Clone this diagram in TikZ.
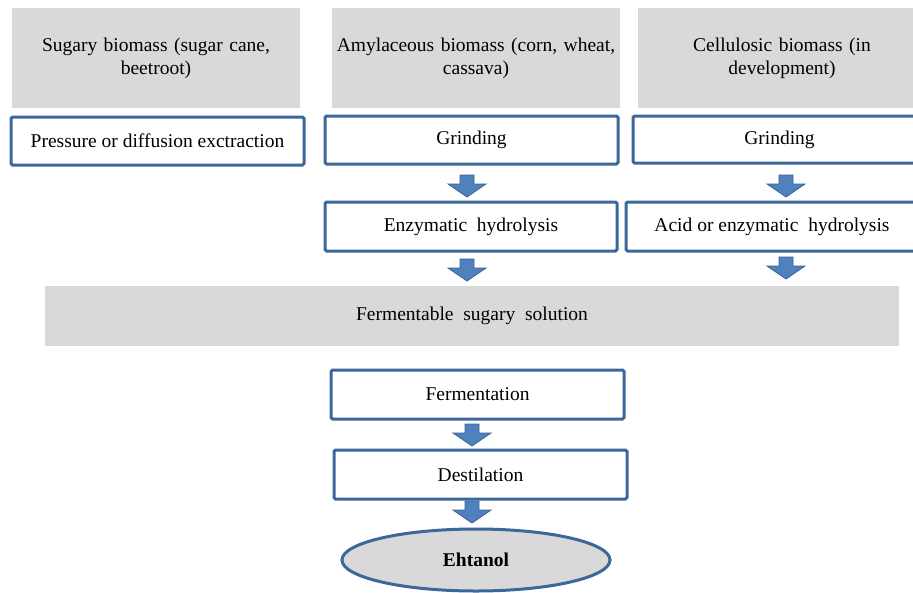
\documentclass[tikz,border=0pt]{standalone}
\usepackage{fontspec}
\setmainfont{Liberation Serif}
\usetikzlibrary{shapes.geometric}
\definecolor{boxgray}{HTML}{D9D9D9}
\definecolor{boxblue}{HTML}{3C679A}
\definecolor{arrfill}{HTML}{4F81BD}
\definecolor{arrdraw}{HTML}{3A6495}
\tikzset{
  graybox/.style={fill=boxgray, draw=none, align=center, font=\fontsize{19.5}{23}\selectfont, inner sep=0pt},
  bluebox/.style={fill=white, draw=boxblue, line width=3pt, rounded corners=1.5pt, align=center, font=\fontsize{19.5}{23}\selectfont, inner sep=0pt},
  blockarrow/.style={fill=arrfill, draw=arrdraw, line width=0.8pt, line join=miter}
}
\newcommand{\downarr}[2]{%
  \draw[blockarrow] (#1-7,#2) -- (#1+7,#2) -- (#1+7,#2+9) -- (#1+19,#2+9) -- (#1,#2+22) -- (#1-19,#2+9) -- (#1-7,#2+9) -- cycle;}
\begin{document}
\begin{tikzpicture}[x=1pt,y=-1pt]
\useasboundingbox (0,0) rectangle (913,592);
\clip (0,0) rectangle (913,592);
\fill[white] (0,0) rectangle (913,592);
% top gray boxes
\node[graybox, minimum width=288pt, minimum height=100pt, text width=270pt] (sug) at (156,58) {Sugary biomass (sugar cane,\\ beetroot)};
\node[graybox, minimum width=288pt, minimum height=100pt, text width=285pt] (amy) at (476,58) {Amylaceous biomass (corn, wheat,\\ cassava)};
\node[graybox, minimum width=288pt, minimum height=100pt, text width=270pt] (cel) at (782,58) {Cellulosic biomass (in\\ development)};
% blue boxes
\node[bluebox, minimum width=293pt, minimum height=48pt] (pre) at (157.5,141) {Pressure or diffusion exctraction};
\node[bluebox, minimum width=293pt, minimum height=48pt] (gr1) at (471.5,140) {Grinding};
\node[bluebox, minimum width=293pt, minimum height=47pt] (gr2) at (779.5,139.5) {Grinding};
\node[bluebox, minimum width=292pt, minimum height=49pt] (enz) at (471,226.5) {Enzymatic\ \ hydrolysis};
\node[bluebox, minimum width=292pt, minimum height=49pt] (acid) at (772,226.5) {Acid or enzymatic\ \ hydrolysis};
\node[graybox, minimum width=854pt, minimum height=60pt] (ferm) at (472,316) {Fermentable\ \ sugary\ \ solution};
\node[bluebox, minimum width=293pt, minimum height=49pt] (fer) at (477.5,394.5) {Fermentation};
\node[bluebox, minimum width=293pt, minimum height=49pt] (des) at (480.5,474.5) {Destilation};
\node[ellipse, fill=boxgray, draw=boxblue, line width=3pt, minimum width=268pt, minimum height=62pt, inner sep=0pt, font=\fontsize{19.5}{23}\selectfont\bfseries] (eth) at (476,560) {Ehtanol};
% block arrows
\downarr{467}{175}
\downarr{786}{175}
\downarr{467}{259}
\downarr{786}{257}
\downarr{472}{424}
\downarr{472}{501}
\end{tikzpicture}
\end{document}
